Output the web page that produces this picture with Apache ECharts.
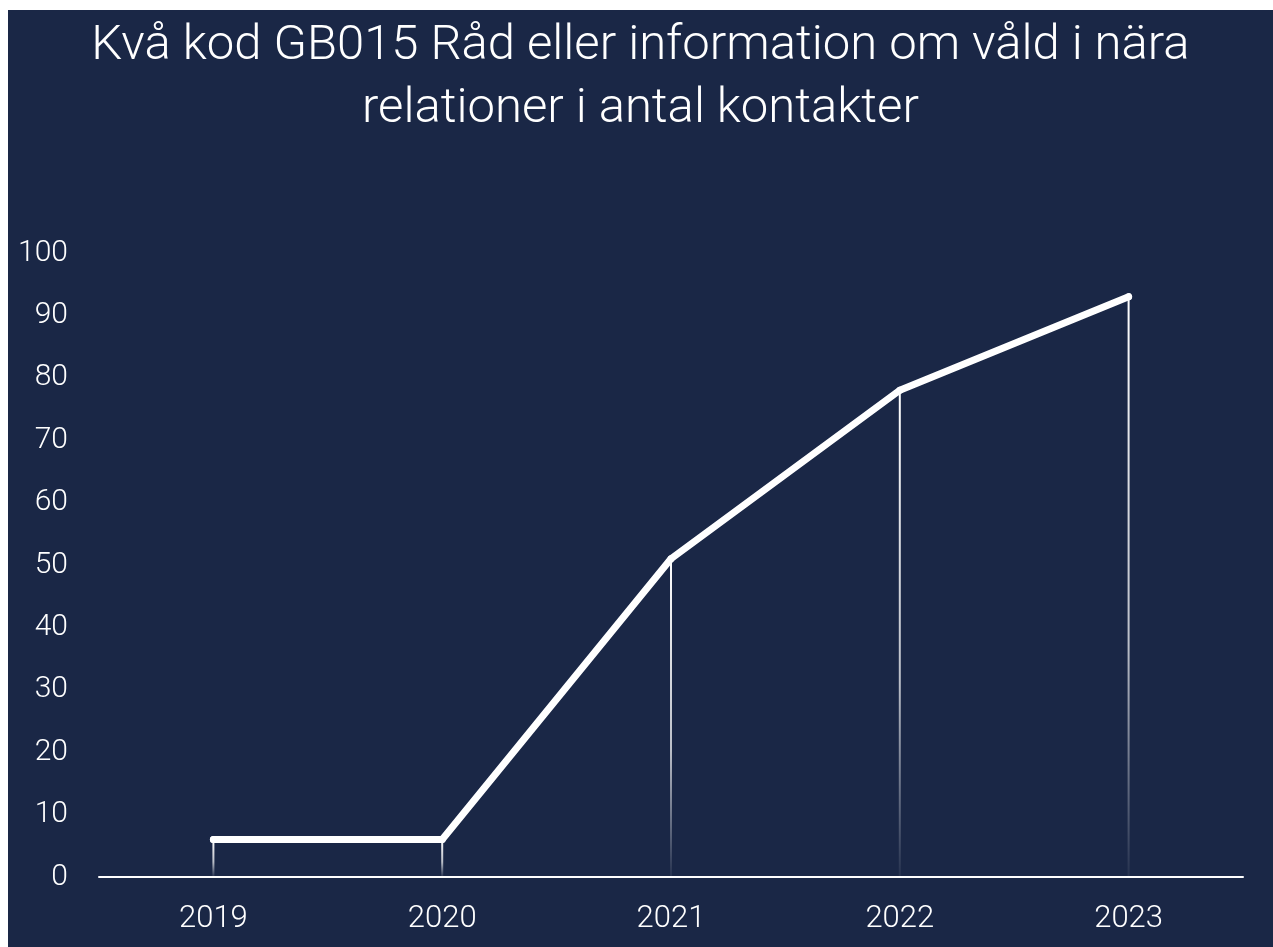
<!DOCTYPE html>
<html>
<head>
<meta charset="utf-8">
<script src="https://cdn.jsdelivr.net/npm/echarts@6/dist/echarts.min.js"></script>
<style>
  html, body { margin: 0; padding: 0; background: #ffffff; }
  #main { position: absolute; left: 8px; top: 10px; width: 1265px; height: 937px; background: #1a2746; }
</style>
</head>
<body>
<div id="main"></div>
<script>
  // data
  var years = ['2019', '2020', '2021', '2022', '2023'];
  var kontakter = [6, 6, 51, 78, 93];
  var yTicks = [0, 10, 20, 30, 40, 50, 60, 70, 80, 90, 100];

  var chart = echarts.init(document.getElementById('main'));
  var option = {
    backgroundColor: '#1a2746',
    title: {
      text: 'Kvå kod GB015 Råd eller information om våld i nära\nrelationer i antal kontakter',
      left: 'center',
      top: 0,
      textStyle: {
        color: '#ffffff',
        fontFamily: 'Roboto',
        fontSize: 49,
        fontWeight: 300,
        lineHeight: 63
      }
    },
    grid: { left: 91, right: 30, top: 243, bottom: 70 },
    xAxis: {
      type: 'category',
      data: years,
      boundaryGap: true,
      axisLine: { lineStyle: { color: '#ffffff', width: 2 } },
      axisTick: { show: false },
      splitLine: { show: false },
      axisLabel: { color: '#ffffff', fontFamily: 'Roboto', fontSize: 31, fontWeight: 300, margin: 27 }
    },
    yAxis: {
      type: 'value',
      min: yTicks[0],
      max: yTicks[yTicks.length - 1],
      interval: 10,
      axisLine: { show: false },
      axisTick: { show: false },
      splitLine: { show: false },
      axisLabel: { color: '#ffffff', fontFamily: 'Roboto', fontSize: 30, fontWeight: 300, margin: 31 }
    },
    series: [
      {
        // drop lines from each point to the axis
        type: 'bar',
        data: kontakter,
        barWidth: 2,
        silent: true,
        itemStyle: {
          color: new echarts.graphic.LinearGradient(0, 0, 0, 1, [
            { offset: 0, color: 'rgba(255,255,255,1)' },
            { offset: 0.6, color: 'rgba(255,255,255,0.7)' },
            { offset: 1, color: 'rgba(255,255,255,0.05)' }
          ])
        }
      },
      {
        type: 'line',
        data: kontakter,
        symbol: 'circle',
        symbolSize: 7,
        itemStyle: { color: '#ffffff' },
        lineStyle: { color: '#ffffff', width: 7, cap: 'round', join: 'round' }
      }
    ]
  };
  chart.setOption(option);
</script>
</body>
</html>
